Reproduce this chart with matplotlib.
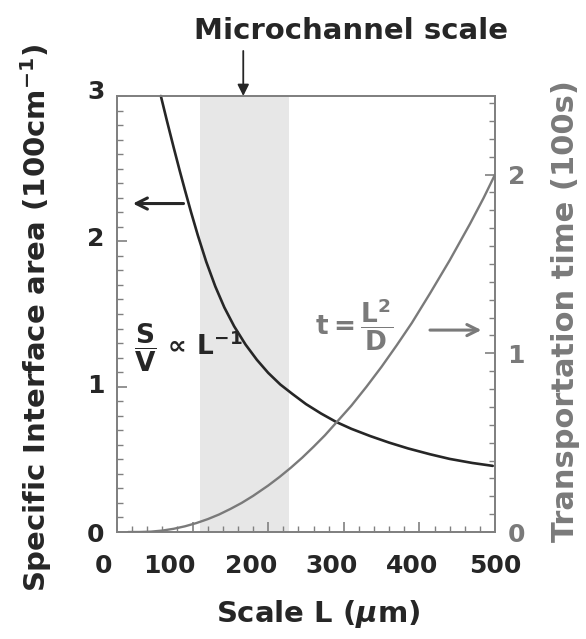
import matplotlib
matplotlib.use("Agg")
import matplotlib.pyplot as plt
import matplotlib.transforms as mtransforms

# ---- data ----
L_sv = [58, 66, 75, 83, 90, 98, 107, 118, 130, 142, 155, 170, 185, 200, 216, 232,
        250, 270, 290, 310, 335, 360, 385, 414, 440, 470, 497]
sv = [3.0, 2.83, 2.645, 2.485, 2.35, 2.20, 2.04, 1.86, 1.69, 1.545, 1.415, 1.29, 1.185,
      1.095, 1.015, 0.95, 0.88, 0.815, 0.757, 0.71, 0.66, 0.615, 0.575, 0.535, 0.503,
      0.475, 0.455]

L_t = [15, 30, 45, 60, 75, 90, 105, 120, 135, 150, 165, 180, 200, 215, 230, 245, 260,
       275, 290, 310, 330, 350, 370, 390, 414, 440, 467, 485, 500]
t_vals = [0.0, 0.0, 0.002, 0.008, 0.018, 0.032, 0.05, 0.072, 0.098, 0.129, 0.163, 0.202,
          0.26, 0.308, 0.36, 0.416, 0.477, 0.541, 0.612, 0.707, 0.813, 0.925, 1.045,
          1.17, 1.335, 1.52, 1.725, 1.87, 2.0]

micro_range = [110, 228]
x_ticks = [0, 100, 200, 300, 400, 500]
y_left_ticks = [0, 1, 2, 3]
y_right_ticks = [0, 1, 2]

plt.rcParams['font.family'] = ['DejaVu Sans']
plt.rcParams['font.weight'] = 'bold'
plt.rcParams['mathtext.fontset'] = 'custom'
plt.rcParams['mathtext.rm'] = 'DejaVu Sans:bold'
plt.rcParams['mathtext.bf'] = 'DejaVu Sans:bold'
plt.rcParams['mathtext.it'] = 'DejaVu Sans:italic:bold'
plt.rcParams['mathtext.sf'] = 'DejaVu Sans:bold'

dark = '#262626'
gray = '#7a7a7a'
spine_c = '#808080'

W, H = 586, 639
fig = plt.figure(figsize=(W / 100, H / 100), dpi=100)
ax = fig.add_axes([117 / W, 1 - 532 / H, 378 / W, 436 / H])
ax2 = ax.twinx()

ax.set_xlim(0, 500)
ax.set_ylim(0, 3)
ax2.set_ylim(0, 2.44)

ax.axvspan(micro_range[0], micro_range[1], color='#e7e7e7', lw=0, zorder=0)
ax.plot(L_sv, sv, color=dark, lw=1.9, zorder=3, clip_on=False,
        solid_joinstyle='round', solid_capstyle='round')
ax2.plot(L_t, t_vals, color=gray, lw=1.7, zorder=3,
         solid_joinstyle='round', solid_capstyle='round')

for a in (ax, ax2):
    for s in a.spines.values():
        s.set_color(spine_c)
        s.set_linewidth(1.3)

# ticks
ax.set_xticks(x_ticks)
ax.set_xticks(range(0, 501, 20), minor=True)
ax.set_yticks(y_left_ticks)
ax.set_yticks([i / 10 for i in range(31)], minor=True)
ax2.set_yticks(y_right_ticks)
ax2.set_yticks([i / 10 for i in range(25)], minor=True)

ax.tick_params(axis='x', which='both', direction='in', top=False, color=spine_c)
ax.tick_params(axis='x', which='major', length=7, width=1.2, pad=16, labelsize=18, labelcolor=dark)
ax.tick_params(axis='x', which='minor', length=4, width=1.0)
ax.tick_params(axis='y', which='both', direction='in', right=False, color=spine_c)
ax.tick_params(axis='y', which='major', length=7, width=1.2, pad=9, labelsize=18, labelcolor=dark)
ax.tick_params(axis='y', which='minor', length=4, width=1.0)
ax2.tick_params(axis='y', which='both', direction='in', color=spine_c)
ax2.tick_params(axis='y', which='major', length=7, width=1.2, pad=9, labelsize=18, labelcolor=gray)
ax2.tick_params(axis='y', which='minor', length=4, width=1.0)

# shift x tick labels like the reference
x_off_px = [-13, -23, -17, -12, -7, 0]
for lab, dx in zip(ax.get_xticklabels(), x_off_px):
    lab.set_transform(lab.get_transform() + mtransforms.ScaledTranslation(dx / 100, 0, fig.dpi_scale_trans))
y_off_px = [0, 3, 5, 7]
for lab, dy in zip(ax.get_yticklabels(), y_off_px):
    lab.set_transform(lab.get_transform() + mtransforms.ScaledTranslation(0, dy / 100, fig.dpi_scale_trans))

# labels
fig.text(318 / W, 1 - 614 / H, r'Scale L ($\mu$m)', ha='center', va='center',
         fontsize=21, color=dark)
fig.text(36 / W, 1 - 318 / H, r'Specific Interface area (100cm$^{-1}$)', rotation=90,
         ha='center', va='center', fontsize=21, color=dark)
fig.text(566 / W, 1 - 311 / H, 'Transportation time (100s)', rotation=90,
         ha='center', va='center', fontsize=22, color=gray)
fig.text(351 / W, 1 - 31 / H, 'Microchannel scale', ha='center', va='center',
         fontsize=21, color=dark)

# arrows
ax.annotate('', xy=(167, 3.0), xytext=(167, 3.31), annotation_clip=False,
            arrowprops=dict(arrowstyle='-|>', color=dark, lw=1.3, mutation_scale=17,
                            shrinkA=0, shrinkB=0))
ax.annotate('', xy=(21, 2.26), xytext=(88, 2.26),
            arrowprops=dict(arrowstyle='->', color=dark, lw=2.2, mutation_scale=20,
                            shrinkA=0, shrinkB=0))
ax2.annotate('', xy=(482, 1.13), xytext=(414, 1.13),
             arrowprops=dict(arrowstyle='->', color=gray, lw=2.2, mutation_scale=20,
                             shrinkA=0, shrinkB=0))

# formulas
ax.text(22, 1.27, r'$\dfrac{\mathrm{S}}{\mathrm{V}}\,\propto\,\mathrm{L^{-1}}$',
        fontsize=19, ha='left', va='center', color=dark, zorder=5)
ax.text(262, 1.43, r'$\mathrm{t} = \dfrac{\mathrm{L^{2}}}{\mathrm{D}}$',
        fontsize=19, ha='left', va='center', color=gray, zorder=5)

fig.savefig('out.png', dpi=100, facecolor='white')
